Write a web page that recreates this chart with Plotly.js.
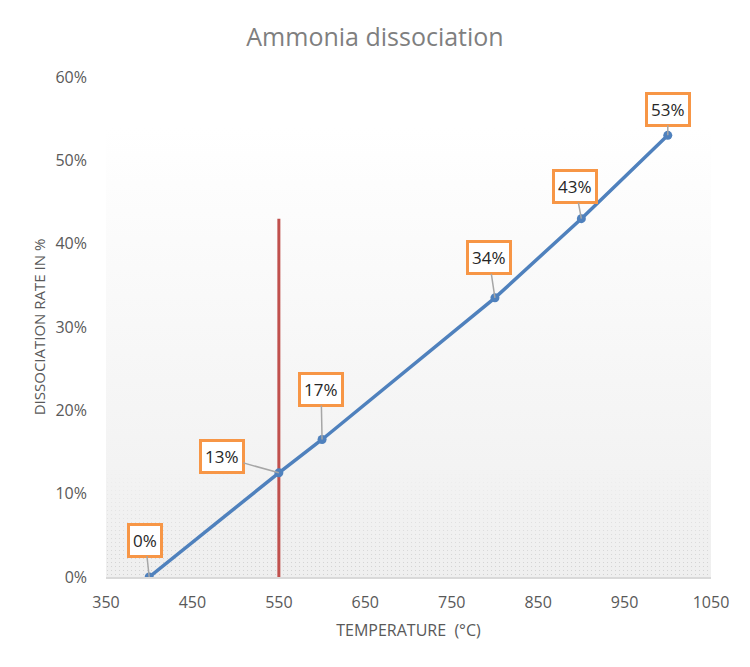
<!DOCTYPE html>
<html>
<head>
<meta charset="utf-8">
<script src="https://cdn.plot.ly/plotly-3.0.1.min.js"></script>
<style>
  html, body { margin: 0; padding: 0; background: #fff; }
  #chart { width: 750px; height: 667px; }
</style>
</head>
<body>
<div id="chart"></div>
<script>
// values (temperature in °C, dissociation in %)
const temps = [400, 550, 600, 800, 900, 1000];
const rates = [0, 12.5, 16.5, 33.5, 43, 53];
const markerX = [550, 550];
const markerY = [0, 43];
const xTicks = [350, 450, 550, 650, 750, 850, 950, 1050];
const yTicks = [0, 10, 20, 30, 40, 50, 60];

// label box offsets (pixels, box centre relative to point)
const labelOffsets = [[-4, -37], [-57, -16], [-1, -50], [-6, -40], [-6, -32], [0, -26]];

// plot area background: white at top fading to light gray with a dotted texture at the bottom
const bgSvg = `<svg xmlns="http://www.w3.org/2000/svg" width="605" height="500">
<defs>
<linearGradient id="g" x1="0" y1="0" x2="0" y2="1">
<stop offset="0" stop-color="#ffffff"/>
<stop offset="0.1" stop-color="#ffffff"/>
<stop offset="1" stop-color="#efefef"/>
</linearGradient>
<pattern id="p" width="4" height="4" patternUnits="userSpaceOnUse">
<rect x="1" y="1" width="1" height="1" fill="#d0d0d0"/>
</pattern>
<linearGradient id="m" x1="0" y1="0" x2="0" y2="1">
<stop offset="0.78" stop-color="#000"/>
<stop offset="1" stop-color="#fff"/>
</linearGradient>
<mask id="mk"><rect width="605" height="500" fill="url(#m)"/></mask>
</defs>
<rect width="605" height="500" fill="url(#g)"/>
<rect width="605" height="500" fill="url(#p)" mask="url(#mk)"/>
</svg>`;

const font = 'Open Sans, Noto Sans, sans-serif';

const data = [
    {
        x: markerX,
        y: markerY,
        type: 'scatter',
        mode: 'lines',
        line: { color: '#C0504D', width: 3 },
        hoverinfo: 'skip'
    },
    {
        x: temps,
        y: rates,
        type: 'scatter',
        mode: 'lines+markers',
        line: { color: '#4F81BD', width: 3.5 },
        marker: { color: '#4F81BD', size: 9 }
    }
];

const annotations = temps.map((t, i) => ({
    x: t,
    y: rates[i],
    xref: 'x',
    yref: 'y',
    text: Math.round(rates[i]) + '%',
    showarrow: true,
    arrowhead: 0,
    arrowwidth: 1.5,
    arrowcolor: '#a6a6a6',
    ax: labelOffsets[i][0],
    ay: labelOffsets[i][1],
    bgcolor: '#ffffff',
    bordercolor: '#F79646',
    borderwidth: 3,
    borderpad: 3,
    font: { family: font, size: 17, color: '#262626' }
}));

const layout = {
    width: 750,
    height: 667,
    paper_bgcolor: '#ffffff',
    plot_bgcolor: 'rgba(0,0,0,0)',
    margin: { l: 106, r: 39, t: 77, b: 90 },
    showlegend: false,
    title: {
        text: 'Ammonia dissociation',
        font: { family: font, size: 25, color: '#7f7f7f' },
        x: 0.5, xref: 'container',
        y: 1 - 37 / 667, yref: 'container', yanchor: 'middle'
    },
    xaxis: {
        range: [350, 1050],
        tickvals: xTicks,
        ticktext: xTicks.map(String),
        showgrid: false,
        zeroline: false,
        showline: true,
        linecolor: '#d9d9d9',
        linewidth: 2,
        ticks: '',
        ticklabelstandoff: 10,
        tickfont: { family: font, size: 16, color: '#595959' },
        title: {
            text: 'TEMPERATURE  (°C)',
            font: { family: font, size: 16, color: '#595959' },
            standoff: 13
        }
    },
    yaxis: {
        range: [0, 60],
        tickvals: yTicks,
        ticktext: yTicks.map(v => v + '%'),
        showgrid: false,
        zeroline: false,
        showline: false,
        ticks: '',
        ticklabelstandoff: 18,
        tickfont: { family: font, size: 16, color: '#595959' },
        title: {
            text: 'DISSOCIATION RATE IN %',
            font: { family: font, size: 15, color: '#595959' },
            standoff: 6
        }
    },
    images: [{
        source: 'data:image/svg+xml;charset=utf-8,' + encodeURIComponent(bgSvg),
        xref: 'paper', yref: 'paper',
        x: 0, y: 1, sizex: 1, sizey: 1,
        xanchor: 'left', yanchor: 'top',
        sizing: 'stretch',
        layer: 'below'
    }],
    annotations: annotations,
    hovermode: false
};

Plotly.newPlot('chart', data, layout, { displayModeBar: false, staticPlot: true });
</script>
</body>
</html>
